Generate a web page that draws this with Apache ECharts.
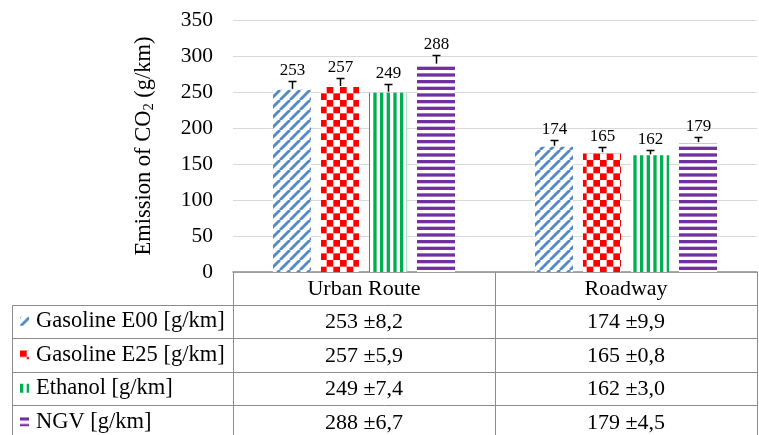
<!DOCTYPE html>
<html>
<head>
<meta charset="utf-8">
<script src="https://cdn.jsdelivr.net/npm/echarts@6/dist/echarts.min.js"></script>
<style>
  html, body { margin: 0; padding: 0; background: #fff; }
  #chart { width: 759px; height: 435px; }
</style>
</head>
<body>
<div id="chart"></div>
<script>
// ---- data ----
const categories = ['Urban Route', 'Roadway'];
const seriesNames = ['Gasoline E00 [g/km]', 'Gasoline E25 [g/km]', 'Ethanol [g/km]', 'NGV [g/km]'];

// mean CO2 emission per fuel (g/km)
const e00 = [253, 174];
const e25 = [257, 165];
const ethanol = [249, 162];
const ngv = [288, 179];

// standard deviation printed in the data table
const e00Sd = [8.2, 9.9];
const e25Sd = [5.9, 0.8];
const ethanolSd = [7.4, 3.0];
const ngvSd = [6.7, 4.5];

// plus error bar lengths drawn on the bars
const e00Err = [12.7, 8.7];
const e25Err = [12.9, 8.3];
const ethanolErr = [12.5, 8.1];
const ngvErr = [13.0, 9.0];

// value axis
const yMin = 0, yMax = 350, yStep = 50;
const yAxisTitle = ['Emission of CO', '2', ' (g/km)'];

// ---- layout & style ----
const FONT = '"Liberation Serif", "Times New Roman", serif';
const GRID = { left: 233, right: 2, top: 20, bottom: 163 };
const BAR_W = 38, BAR_GAP = 10;
const STEP = BAR_W + BAR_GAP;
const TABLE_LINE = '#8c8c8c';
const HEADER_H = 32.5, ROW_H = 33.5, TABLE_LEFT = 12.5;
const LEGEND_LINE_H = 24;

function pattern(w, h, draw) {
  const c = document.createElement('canvas');
  c.width = w; c.height = h;
  const ctx = c.getContext('2d');
  ctx.fillStyle = '#ffffff';
  ctx.fillRect(0, 0, w, h);
  draw(ctx, w, h);
  return { image: c, repeat: 'repeat' };
}

// wide upward diagonal stripes
const diagBlue = pattern(10, 10, (ctx, w, h) => {
  ctx.strokeStyle = '#5389c9';
  ctx.lineWidth = 2.8;
  for (let k = -1; k <= 1; k++) {
    ctx.beginPath();
    ctx.moveTo(k * w, h);
    ctx.lineTo(k * w + w, 0);
    ctx.stroke();
  }
});
// large checker board
const checkRed = pattern(40, 40, (ctx) => {
  const s = 40 / 6;
  ctx.fillStyle = '#ff0000';
  for (let i = 0; i < 6; i++)
    for (let j = 0; j < 6; j++)
      if ((i + j) % 2 === 0) ctx.fillRect(i * s, j * s, s, s);
});
// vertical stripes
const vertGreen = pattern(20, 20, (ctx) => {
  const p = 20 / 3;
  ctx.fillStyle = '#00b050';
  for (let i = 0; i < 3; i++) ctx.fillRect(i * p, 0, 3.3, 20);
});
// horizontal stripes
const horizPurple = pattern(20, 20, (ctx) => {
  const p = 20 / 3;
  ctx.fillStyle = '#7030a0';
  for (let i = 0; i < 3; i++) ctx.fillRect(0, i * p, 20, 3.3);
});

const fuels = [
  { name: seriesNames[0], values: e00, sd: e00Sd, err: e00Err, fill: diagBlue },
  { name: seriesNames[1], values: e25, sd: e25Sd, err: e25Err, fill: checkRed },
  { name: seriesNames[2], values: ethanol, sd: ethanolSd, err: ethanolErr, fill: vertGreen },
  { name: seriesNames[3], values: ngv, sd: ngvSd, err: ngvErr, fill: horizPurple }
];

const fmtSd = (v) => v.toFixed(1).replace('.', ',');

const barSeries = fuels.map((f) => ({
  name: f.name,
  type: 'bar',
  data: f.values,
  barWidth: BAR_W,
  barGap: (BAR_GAP / BAR_W * 100) + '%',
  itemStyle: { color: f.fill },
  silent: true
}));

// error bars + value labels
const errData = [];
fuels.forEach((f, s) => {
  f.values.forEach((v, c) => errData.push([c, v, f.err[c], s]));
});

const errSeries = {
  type: 'custom',
  data: errData,
  encode: { x: 0, y: 1 },
  silent: true,
  z: 5,
  renderItem(params, api) {
    const c = api.value(0), v = api.value(1), e = api.value(2), s = api.value(3);
    const base = api.coord([c, v]);
    const top = api.coord([c, v + e]);
    const x = Math.round(base[0] + (s - (fuels.length - 1) / 2) * STEP) + 0.5;
    const ty = Math.round(top[1]) + 0.5;
    const ls = { stroke: '#000', lineWidth: 1.5 };
    return {
      type: 'group',
      children: [
        { type: 'line', shape: { x1: x, y1: base[1] - 1, x2: x, y2: ty }, style: ls },
        { type: 'line', shape: { x1: x - 4, y1: ty, x2: x + 4, y2: ty }, style: ls },
        {
          type: 'text', x: x, y: ty - 2,
          style: { text: String(v), fill: '#000', font: '17px ' + FONT, align: 'center', verticalAlign: 'bottom' }
        }
      ]
    };
  }
};

// table row separators
const chartH = 435, chartW = 759;
const axisY = chartH - GRID.bottom;
const tableLines = [];
for (let k = 0; k < fuels.length; k++) {
  const y = Math.round(axisY + HEADER_H + k * ROW_H) + 0.5;
  tableLines.push({
    type: 'line', silent: true,
    shape: { x1: TABLE_LEFT, y1: y, x2: chartW - GRID.right, y2: y },
    style: { stroke: TABLE_LINE, lineWidth: 1 }
  });
}
tableLines.push({
  type: 'line', silent: true,
  shape: { x1: TABLE_LEFT, y1: Math.round(axisY + HEADER_H) + 0.5, x2: TABLE_LEFT, y2: chartH },
  style: { stroke: TABLE_LINE, lineWidth: 1 }
});

const chart = echarts.init(document.getElementById('chart'), null, { renderer: 'canvas' });
chart.setOption({
  animation: false,
  backgroundColor: '#ffffff',
  textStyle: { fontFamily: FONT },
  grid: GRID,
  legend: {
    data: seriesNames,
    orient: 'vertical',
    left: 20,
    top: axisY + HEADER_H + ROW_H / 2 - LEGEND_LINE_H / 2,
    height: 150,
    padding: 0,
    itemWidth: 9,
    itemHeight: 9,
    itemGap: ROW_H - LEGEND_LINE_H,
    icon: 'rect',
    selectedMode: false,
    textStyle: { fontFamily: FONT, fontSize: 22.5, color: '#000', lineHeight: LEGEND_LINE_H, padding: [0, 0, 0, 2] }
  },
  xAxis: {
    type: 'category',
    data: categories,
    axisLine: { show: true, lineStyle: { color: TABLE_LINE, width: 1.5 } },
    axisTick: { show: true, interval: 0, alignWithLabel: false, length: GRID.bottom + 2, lineStyle: { color: TABLE_LINE, width: 1 } },
    axisLabel: {
      interval: 0,
      margin: 0,
      formatter: (value, idx) => [`{h|${value}}`]
        .concat(fuels.map((f) => `{v|${f.values[idx]} ±${fmtSd(f.sd[idx])}}`))
        .join('\n'),
      rich: {
        h: { fontFamily: FONT, fontSize: 22, color: '#000', lineHeight: ROW_H },
        v: { fontFamily: FONT, fontSize: 22, color: '#000', lineHeight: ROW_H }
      }
    },
    splitLine: { show: false }
  },
  yAxis: {
    type: 'value',
    min: yMin,
    max: yMax,
    interval: yStep,
    axisLine: { show: false },
    axisTick: { show: false },
    axisLabel: { fontFamily: FONT, fontSize: 21.5, color: '#000', margin: 20 },
    splitLine: { lineStyle: { color: '#d9d9d9', width: 1 } },
    name: `{t|${yAxisTitle[0]}}{s|${yAxisTitle[1]}}{t|${yAxisTitle[2]}}`,
    nameLocation: 'middle',
    nameRotate: 90,
    nameGap: 76,
    nameTextStyle: {
      rich: {
        t: { fontFamily: FONT, fontSize: 22.5, color: '#000', lineHeight: 26, verticalAlign: 'middle' },
        s: { fontFamily: FONT, fontSize: 14.5, color: '#000', lineHeight: 26, verticalAlign: 'bottom', padding: [9, 0, 0, 0] }
      }
    }
  },
  graphic: tableLines,
  series: barSeries.concat([errSeries])
});
</script>
</body>
</html>
